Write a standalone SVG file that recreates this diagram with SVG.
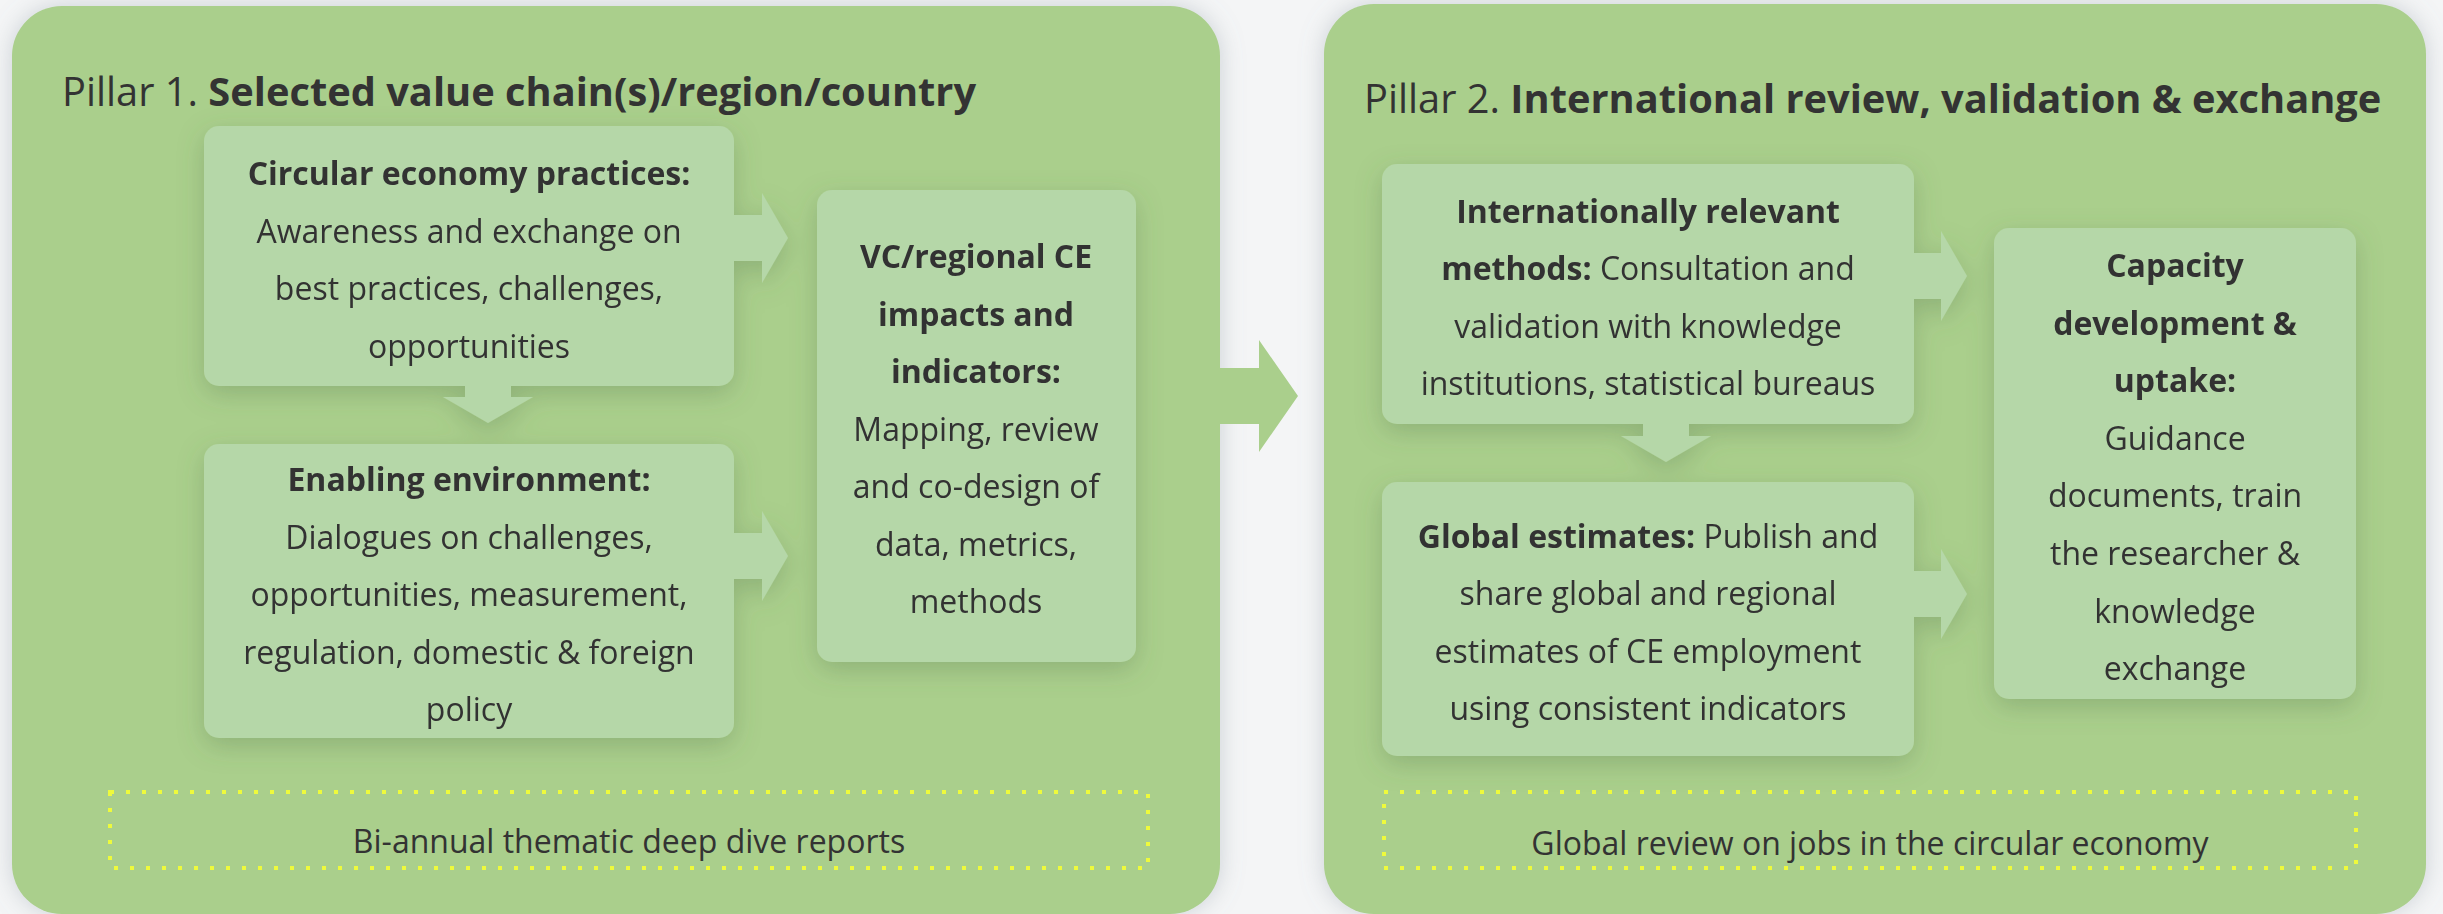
<svg xmlns="http://www.w3.org/2000/svg" width="2443" height="914" viewBox="0 0 2443 914">
<defs>
<style>
.title{font-family:"Open Sans","Liberation Sans",sans-serif;font-size:39.8px;fill:#333333}
.t{font-family:"Open Sans","Liberation Sans",sans-serif;font-size:32px;fill:#333333;text-anchor:middle}
.b{font-weight:700}
.panel{fill:#aacf8c}
.box{fill:#b5d7a8}
.arrow{fill:#b5d7a8}
.bigarrow{fill:#aacf8c}
.dots{fill:none;stroke:#eefa3c;stroke-width:4;stroke-dasharray:4 12}
</style>
<filter id="pshadow" x="-10%" y="-10%" width="120%" height="120%">
<feDropShadow dx="0" dy="0" stdDeviation="12" flood-color="#7d8c96" flood-opacity="0.35"/>
</filter>
<filter id="bshadow" x="-10%" y="-10%" width="120%" height="120%">
<feDropShadow dx="0" dy="8" stdDeviation="13" flood-color="#4f6e45" flood-opacity="0.3"/>
</filter>
</defs>
<rect x="0" y="0" width="2443" height="914" fill="#f4f5f6"/>

<g id="pillar1">
<rect class="panel" x="12" y="6" width="1208" height="908" rx="50" filter="url(#pshadow)"/>
<text class="title" x="62" y="106">Pillar 1. <tspan class="b">Selected value chain(s)/region/country</tspan></text>
</g>
<g id="pillar2">
<rect class="panel" x="1324" y="4" width="1102" height="910" rx="50" filter="url(#pshadow)"/>
<text class="title" x="1364" y="113">Pillar 2. <tspan class="b">International review, validation &amp; exchange</tspan></text>
</g>

<g id="pillar-connector">
<path class="bigarrow" d="M1212,368 H1259 V340 L1298,396 L1259,452 V424 H1212 Z"/>
</g>

<g filter="url(#bshadow)">
<g id="connectors">
<path class="arrow" d="M734,215 H762 V193 L788,238 L762,283 V261 H734 Z"/>
<path class="arrow" d="M734,533 H762 V511 L788,556 L762,601 V579 H734 Z"/>
<path class="arrow" d="M465,386 V397 H443 L488,423 L533,397 H511 V386 Z"/>
<path class="arrow" d="M1914,253 H1941 V231 L1967,276 L1941,321 V299 H1914 Z"/>
<path class="arrow" d="M1914,571 H1941 V549 L1967,594 L1941,639 V617 H1914 Z"/>
<path class="arrow" d="M1643,424 V436 H1621 L1666,462 L1711,436 H1689 V424 Z"/>
</g>

<g id="node-ce-practices">
<rect class="box" x="204" y="126" width="530" height="260" rx="15"/>
<text class="t b" x="469" y="185">Circular economy practices:</text>
<text class="t" x="469" y="242.5">Awareness and exchange on</text>
<text class="t" x="469" y="300">best practices, challenges,</text>
<text class="t" x="469" y="357.5">opportunities</text>
</g>

<g id="node-enabling">
<rect class="box" x="204" y="444" width="530" height="294" rx="15"/>
<text class="t b" x="469" y="491">Enabling environment:</text>
<text class="t" x="469" y="548.5">Dialogues on challenges,</text>
<text class="t" x="469" y="606">opportunities, measurement,</text>
<text class="t" x="469" y="663.5">regulation, domestic &amp; foreign</text>
<text class="t" x="469" y="721">policy</text>
</g>

<g id="node-vc-impacts">
<rect class="box" x="817" y="190" width="319" height="472" rx="15"/>
<text class="t b" x="976" y="268">VC/regional CE</text>
<text class="t b" x="976" y="325.5">impacts and</text>
<text class="t b" x="976" y="383">indicators:</text>
<text class="t" x="976" y="440.5">Mapping, review</text>
<text class="t" x="976" y="498">and co-design of</text>
<text class="t" x="976" y="555.5">data, metrics,</text>
<text class="t" x="976" y="613">methods</text>
</g>

<g id="node-intl-methods">
<rect class="box" x="1382" y="164" width="532" height="260" rx="15"/>
<text class="t b" x="1648" y="223">Internationally relevant</text>
<text class="t" x="1648" y="280"><tspan class="b">methods:</tspan> Consultation and</text>
<text class="t" x="1648" y="337.5">validation with knowledge</text>
<text class="t" x="1648" y="395">institutions, statistical bureaus</text>
</g>

<g id="node-global-estimates">
<rect class="box" x="1382" y="482" width="532" height="274" rx="15"/>
<text class="t" x="1648" y="548"><tspan class="b">Global estimates:</tspan> Publish and</text>
<text class="t" x="1648" y="605">share global and regional</text>
<text class="t" x="1648" y="663">estimates of CE employment</text>
<text class="t" x="1648" y="720">using consistent indicators</text>
</g>

<g id="node-capacity">
<rect class="box" x="1994" y="228" width="362" height="471" rx="15"/>
<text class="t b" x="2175" y="277">Capacity</text>
<text class="t b" x="2175" y="334.5">development &amp;</text>
<text class="t b" x="2175" y="392">uptake:</text>
<text class="t" x="2175" y="449.5">Guidance</text>
<text class="t" x="2175" y="507">documents, train</text>
<text class="t" x="2175" y="565">the researcher &amp;</text>
<text class="t" x="2175" y="622.5">knowledge</text>
<text class="t" x="2175" y="680">exchange</text>
</g>
</g>

<g id="node-deep-dive">
<rect class="dots" x="110" y="792" width="1038" height="76"/>
<text class="t" x="629" y="853">Bi-annual thematic deep dive reports</text>
</g>
<g id="node-global-review">
<rect class="dots" x="1384" y="792" width="972" height="76"/>
<text class="t" x="1870" y="855">Global review on jobs in the circular economy</text>
</g>
</svg>
